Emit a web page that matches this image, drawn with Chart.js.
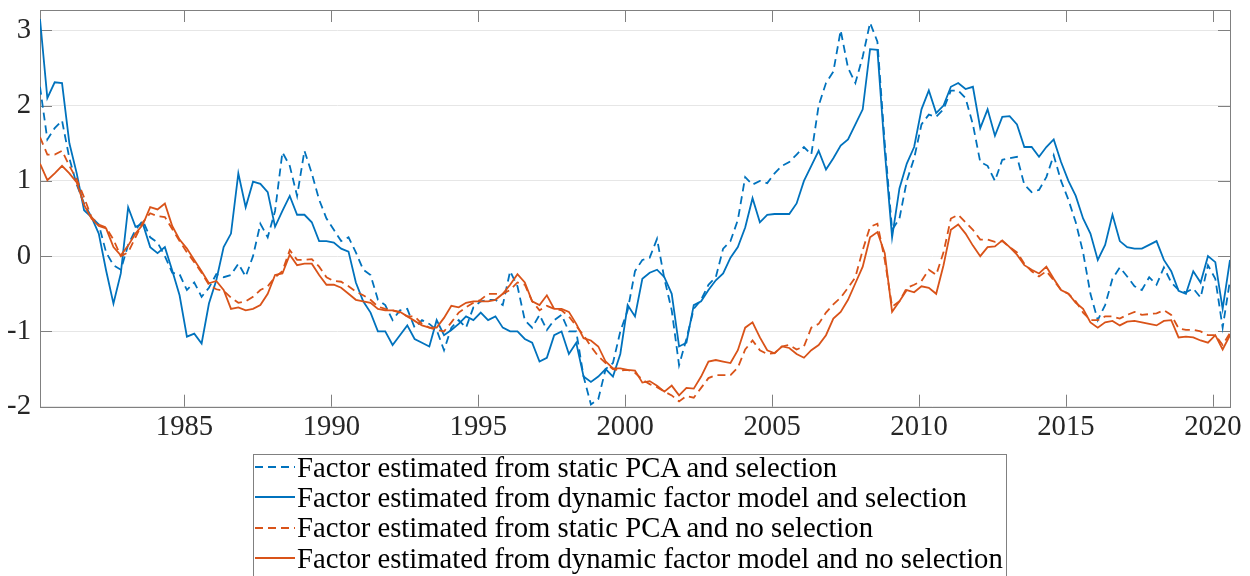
<!DOCTYPE html>
<html>
<head>
<meta charset="utf-8">
<script src="https://cdn.jsdelivr.net/npm/chart.js@4.4.1/dist/chart.umd.min.js"></script>
<style>
    body { margin: 0; background: #fff; overflow: hidden; }
    #wrap { position: relative; width: 1250px; height: 576px; }
    #legend {
        position: absolute; left: 253px; top: 454px; width: 752px; height: 140px;
        border: 1px solid #808080; background: #fff;
        font-family: "Liberation Serif", "DejaVu Serif", serif; font-size: 28.7px; color: #000;
    }
    #legend .rows { position: relative; top: -3px; }
    .row { display: flex; align-items: center; height: 30.3px; white-space: nowrap; }
    .row svg { margin-left: 1px; margin-right: 2px; }
</style>
</head>
<body>
<div id="wrap">
    <canvas id="chart" width="1250" height="576"></canvas>
    <div id="legend"><div class="rows" id="legend-rows"></div></div>
</div>
<script>
// ── Data (quarterly) ────────────────────────────────────────────────
const startYear = 1980.083;
const stepYears = 0.25;

const xTicks = [1985, 1990, 1995, 2000, 2005, 2010, 2015, 2020];
const yTicks = [-2, -1, 0, 1, 2, 3];

const seriesLabels = [
    'Factor estimated from static PCA and selection',
    'Factor estimated from dynamic factor model and selection',
    'Factor estimated from static PCA and no selection',
    'Factor estimated from dynamic factor model and no selection'
];
const seriesColors = ['#0072BD', '#0072BD', '#D95319', '#D95319'];
const seriesDashed = [true, false, true, false];

const pcaSel = [
    2.25, 1.55, 1.7, 1.8, 1.3, 0.95, 0.7, 0.52, 0.42, 0.05, -0.12, -0.18, 0.15, 0.35, 0.47, 0.25, 0.18, 0.0, -0.22, -0.24,
    -0.45, -0.35, -0.54, -0.42, -0.24, -0.28, -0.25, -0.1, -0.27, 0.0, 0.43, 0.25, 0.6,
    1.38, 1.2, 0.8, 1.4, 1.1, 0.75, 0.5, 0.35, 0.2, 0.25, 0.05, -0.18, -0.25, -0.58, -0.65, -0.85, -0.72, -0.7, -0.95,
    -0.85, -0.9, -0.98, -1.25, -0.95, -0.85, -0.95, -0.68, -0.6, -0.58, -0.58, -0.65, -0.2,
    -0.4, -0.85, -0.95, -0.78, -0.98, -0.85, -0.78, -1.0, -1.0, -1.6, -1.97, -1.9, -1.5, -1.42, -1.0, -0.72, -0.2, -0.05,
    -0.02, 0.23, -0.3, -0.72, -1.45, -1.1, -0.7, -0.58, -0.38, -0.28, 0.1, 0.2, 0.48, 1.05, 0.95,
    1.0, 0.97, 1.1, 1.2, 1.25, 1.35, 1.45, 1.35, 2.0, 2.3, 2.45, 3.0, 2.5, 2.3, 2.65, 3.1, 2.85, 1.5, 0.35, 0.5,
    1.0, 1.3, 1.75, 1.88, 1.85, 1.95, 2.2, 2.2, 2.1, 1.75, 1.25, 1.2,
    1.0, 1.28, 1.3, 1.32, 0.95, 0.85, 0.88, 1.05, 1.34, 1.0, 0.75, 0.45, 0.05, -0.5, -0.85, -0.65, -0.3, -0.15, -0.27,
    -0.4, -0.45, -0.28, -0.38, -0.15, -0.35, -0.45, -0.48, -0.43, -0.55, -0.12, -0.3, -0.95, -0.32
];
const dfmSel = [
    3.15, 2.1, 2.31, 2.3, 1.5, 1.1, 0.61, 0.52, 0.3, -0.19, -0.63, -0.23, 0.65, 0.39, 0.43, 0.12, 0.04, 0.12, -0.19, -0.52,
    -1.07, -1.03, -1.16, -0.63, -0.32, 0.12, 0.3, 1.1, 0.65, 0.99, 0.96, 0.85, 0.39,
    0.6, 0.8, 0.55, 0.55, 0.45, 0.2, 0.2, 0.18, 0.1, 0.06, -0.35, -0.6, -0.75, -1.0, -1.0, -1.18, -1.05, -0.92, -1.1,
    -1.15, -1.2, -0.85, -1.05, -0.98, -0.9, -0.8, -0.85, -0.75, -0.85, -0.8, -0.95, -1.0,
    -1.0, -1.1, -1.15, -1.4, -1.35, -1.05, -1.0, -1.3, -1.15, -1.6, -1.67, -1.6, -1.5, -1.6, -1.3, -0.65, -0.8, -0.3,
    -0.22, -0.18, -0.28, -0.5, -1.2, -1.15, -0.65, -0.6, -0.45, -0.32, -0.23, -0.02, 0.12, 0.38, 0.77,
    0.45, 0.55, 0.56, 0.56, 0.56, 0.7, 1.0, 1.2, 1.4, 1.15, 1.3, 1.47, 1.55, 1.75, 1.95, 2.75, 2.74, 1.4, 0.25, 0.9,
    1.23, 1.45, 1.95, 2.2, 1.9, 2.0, 2.25, 2.3, 2.22, 2.25, 1.7, 1.95,
    1.6, 1.85, 1.86, 1.75, 1.45, 1.45, 1.32, 1.45, 1.55, 1.25, 1.0, 0.8, 0.5, 0.3, -0.05, 0.15, 0.55, 0.2, 0.12,
    0.1, 0.1, 0.15, 0.2, -0.05, -0.2, -0.46, -0.5, -0.2, -0.35, 0.0, -0.08, -0.7, -0.05
];
const pcaNoSel = [
    1.58, 1.35, 1.35, 1.4, 1.2, 1.02, 0.78, 0.52, 0.42, 0.38, 0.22, 0.0, 0.05, 0.25, 0.45, 0.57, 0.53, 0.52, 0.36, 0.2,
    0.05, -0.08, -0.22, -0.38, -0.44, -0.46, -0.55, -0.62, -0.6, -0.54, -0.45, -0.4, -0.28,
    -0.2, 0.08, -0.05, -0.05, -0.04, -0.14, -0.28, -0.33, -0.34, -0.4, -0.47, -0.52, -0.58, -0.67, -0.7, -0.72, -0.75,
    -0.8, -0.8, -0.9, -0.95, -0.98, -1.0, -0.88, -0.75, -0.68, -0.62, -0.58, -0.5, -0.5, -0.5, -0.45,
    -0.35, -0.38, -0.6, -0.72, -0.66, -0.7, -0.72, -0.8, -0.93, -1.05, -1.2, -1.33, -1.42, -1.5, -1.52, -1.51, -1.55,
    -1.64, -1.7, -1.74, -1.8, -1.85, -1.93, -1.86, -1.88, -1.75, -1.62, -1.58, -1.58, -1.58, -1.48, -1.24, -1.12,
    -1.25, -1.3, -1.29, -1.2, -1.18, -1.24, -1.2, -0.95, -0.9, -0.75, -0.64, -0.55, -0.42, -0.28, 0.08, 0.39, 0.43,
    -0.05, -0.67, -0.6, -0.42, -0.38, -0.33, -0.18, -0.25, 0.05, 0.5, 0.55, 0.45, 0.35, 0.22, 0.22,
    0.19, 0.2, 0.12, 0.05, -0.1, -0.2, -0.27, -0.2, -0.32, -0.45, -0.5, -0.6, -0.75, -0.85, -0.85, -0.8, -0.8, -0.83,
    -0.78, -0.74, -0.78, -0.77, -0.76, -0.72, -0.78, -0.96, -0.98, -0.98, -1.0, -1.05, -1.05, -1.18, -1.02
];
const dfmNoSel = [
    1.23, 1.01, 1.1, 1.2, 1.1, 0.98, 0.68, 0.5, 0.4, 0.37, 0.12, 0.01, 0.14, 0.3, 0.42, 0.65, 0.62, 0.7, 0.4, 0.22,
    0.1, -0.05, -0.2, -0.36, -0.33, -0.45, -0.7, -0.68, -0.72, -0.7, -0.65, -0.5, -0.25,
    -0.23, 0.02, -0.12, -0.1, -0.1, -0.25, -0.38, -0.38, -0.42, -0.5, -0.58, -0.6, -0.62, -0.7, -0.72, -0.72, -0.74,
    -0.8, -0.86, -0.92, -0.95, -0.95, -0.82, -0.66, -0.68, -0.62, -0.6, -0.6, -0.6, -0.58, -0.5, -0.38,
    -0.24, -0.35, -0.6, -0.65, -0.52, -0.7, -0.7, -0.74, -0.9, -1.09, -1.12, -1.2, -1.4, -1.49, -1.49, -1.51, -1.52,
    -1.68, -1.66, -1.72, -1.8, -1.72, -1.85, -1.75, -1.76, -1.6, -1.4, -1.38, -1.4, -1.42, -1.25, -0.95, -0.88,
    -1.08, -1.25, -1.29, -1.2, -1.22, -1.3, -1.35, -1.25, -1.18, -1.05, -0.83, -0.74, -0.58, -0.36, -0.14, 0.25, 0.32,
    0.04, -0.74, -0.6, -0.45, -0.48, -0.4, -0.42, -0.5, -0.12, 0.35, 0.42, 0.3, 0.14, 0.0, 0.12,
    0.13, 0.21, 0.12, 0.02, -0.12, -0.18, -0.23, -0.14, -0.3, -0.45, -0.5, -0.62, -0.7, -0.88, -0.95, -0.88, -0.86,
    -0.92, -0.87, -0.86, -0.88, -0.9, -0.92, -0.86, -0.85, -1.08, -1.07, -1.08, -1.12, -1.15, -1.05, -1.24, -1.05
];

const seriesValues = [pcaSel, dfmSel, pcaNoSel, dfmNoSel];
const dates = pcaSel.map((_, i) => startYear + stepYears * i);

// ── Style ───────────────────────────────────────────────────────────
const AXIS_COLOR = '#808080';
const FONT = { family: '"Liberation Serif", "DejaVu Serif", serif', size: 28.7 };
const DASH = [8, 5];
const TICK_LEN = 12;

// MATLAB-like box with inward tick marks on all four sides
const axisBox = {
    id: 'axisBox',
    beforeDatasetsDraw(chart) {
        const { ctx, chartArea: a, scales: { x, y } } = chart;
        ctx.save();
        ctx.strokeStyle = AXIS_COLOR;
        ctx.lineWidth = 1;
        ctx.beginPath();
        x.ticks.forEach(t => {
            const px = Math.round(x.getPixelForValue(t.value)) + 0.5;
            ctx.moveTo(px, a.bottom); ctx.lineTo(px, a.bottom - TICK_LEN);
            ctx.moveTo(px, a.top); ctx.lineTo(px, a.top + TICK_LEN);
        });
        y.ticks.forEach(t => {
            const py = Math.round(y.getPixelForValue(t.value)) + 0.5;
            ctx.moveTo(a.left, py); ctx.lineTo(a.left + TICK_LEN, py);
            ctx.moveTo(a.right, py); ctx.lineTo(a.right - TICK_LEN, py);
        });
        ctx.stroke();
        ctx.strokeRect(Math.round(a.left) + 0.5, Math.round(a.top) + 0.5,
            Math.round(a.right - a.left), Math.round(a.bottom - a.top));
        ctx.restore();
    }
};

function buildChart() {
    const datasets = seriesValues.map((vals, i) => ({
        label: seriesLabels[i],
        data: vals.map((v, k) => ({ x: dates[k], y: v })),
        borderColor: seriesColors[i],
        borderWidth: 1.8,
        borderDash: seriesDashed[i] ? DASH : [],
        pointRadius: 0,
        tension: 0,
        fill: false,
        order: seriesValues.length - i
    }));

    new Chart(document.getElementById('chart'), {
        type: 'line',
        data: { datasets },
        options: {
            responsive: false,
            animation: false,
            devicePixelRatio: 1,
            parsing: false,
            layout: { padding: { top: 10, right: 20, left: 0, bottom: 0 } },
            plugins: { legend: { display: false }, tooltip: { enabled: false } },
            scales: {
                x: {
                    type: 'linear',
                    min: dates[0],
                    max: dates[dates.length - 1],
                    afterBuildTicks: s => { s.ticks = xTicks.map(v => ({ value: v })); },
                    afterFit: s => { s.height = 169.3; s.paddingLeft = 0; s.paddingRight = 0; },
                    grid: { display: false, drawTicks: false },
                    border: { display: false },
                    ticks: { color: '#262626', font: FONT, padding: 4, maxRotation: 0, callback: v => String(v) }
                },
                y: {
                    min: -2,
                    max: 3.27,
                    afterBuildTicks: s => { s.ticks = yTicks.map(v => ({ value: v })); },
                    afterFit: s => { s.width = 40; s.paddingTop = 0; s.paddingBottom = 0; },
                    grid: { color: '#e6e6e6', drawTicks: false },
                    border: { display: false },
                    ticks: { color: '#262626', font: FONT, padding: 9, callback: v => String(v) }
                }
            }
        },
        plugins: [axisBox]
    });
}

function buildLegend() {
    const rows = document.getElementById('legend-rows');
    rows.innerHTML = seriesLabels.map((label, i) => `<div class="row">
        <svg width="40" height="4"><line x1="0" y1="2" x2="40" y2="2" stroke="${seriesColors[i]}"
            stroke-width="1.8" ${seriesDashed[i] ? 'stroke-dasharray="8,5"' : ''}/></svg>
        <span>${label}</span>
    </div>`).join('');
}

buildChart();
buildLegend();
</script>
</body>
</html>
